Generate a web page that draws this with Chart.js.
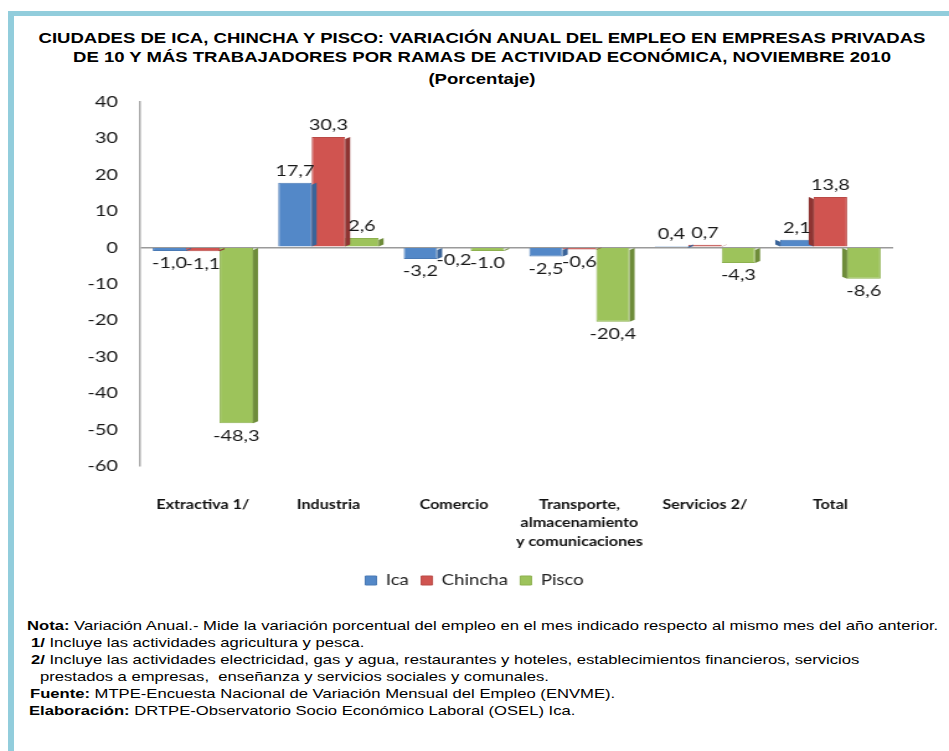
<!DOCTYPE html>
<html>
<head>
<meta charset="utf-8">
<script src="https://cdn.jsdelivr.net/npm/chart.js@4.4.1/dist/chart.umd.min.js"></script>
<style>
  html, body { margin: 0; padding: 0; background: #fff; width: 949px; height: 751px; overflow: hidden; }
  #frame { position: absolute; left: 8px; top: 11px; width: 960px; height: 800px; border-left: 6px solid #92CDDC; border-top: 5px solid #92CDDC; box-sizing: border-box; }
  .title { position: absolute; left: 0; width: 964px; text-align: center; font-family: "Liberation Sans", Arial, sans-serif; font-weight: bold; font-size: 15px; color: #000; white-space: nowrap; transform: scaleX(1.235); transform-origin: 482px 0; }
  .note { position: absolute; font-family: "Liberation Sans", Arial, sans-serif; font-size: 13px; color: #000; white-space: pre; transform: scaleX(1.278); transform-origin: 0 0; }
  .note b { font-weight: bold; }
  #wrap { position: absolute; left: 0; top: 74px; width: 765px; height: 535px; transform: scaleX(1.2405); transform-origin: 0 0; }
</style>
</head>
<body>
<div id="frame"></div>
<div class="title" style="top:29px">CIUDADES DE ICA, CHINCHA Y PISCO: VARIACIÓN ANUAL DEL EMPLEO EN EMPRESAS PRIVADAS</div>
<div class="title" style="top:48px">DE 10 Y MÁS TRABAJADORES POR RAMAS DE ACTIVIDAD ECONÓMICA, NOVIEMBRE 2010</div>
<div class="title" style="top:70px">(Porcentaje)</div>
<div id="wrap"><canvas id="c" width="765" height="535"></canvas></div>
<div class="note" style="left:27px; top:618px"><b>Nota:</b> Variación Anual.- Mide la variación porcentual del empleo en el mes indicado respecto al mismo mes del año anterior.</div>
<div class="note" style="left:31px; top:635px"><b>1/</b> Incluye las actividades agricultura y pesca.</div>
<div class="note" style="left:31px; top:652px"><b>2/</b> Incluye las actividades electricidad, gas y agua, restaurantes y hoteles, establecimientos financieros, servicios</div>
<div class="note" style="left:40px; top:669px">prestados a empresas,  enseñanza y servicios sociales y comunales.</div>
<div class="note" style="left:30px; top:686px"><b>Fuente:</b> MTPE-Encuesta Nacional de Variación Mensual del Empleo (ENVME).</div>
<div class="note" style="left:29px; top:703px"><b>Elaboración:</b> DRTPE-Observatorio Socio Económico Laboral (OSEL) Ica.</div>
<script>
const categories = [
  "Extractiva 1/",
  "Industria",
  "Comercio",
  ["Transporte,", "almacenamiento", "y comunicaciones"],
  "Servicios 2/",
  "Total"
];
const seriesNames = ["Ica", "Chincha", "Pisco"];
const icaValues     = [-1.0, 17.7, -3.2, -2.5, 0.4, 2.1];
const chinchaValues = [-1.1, 30.3, -0.2, -0.6, 0.7, 13.8];
const piscoValues   = [-48.3, 2.6, -1.0, -20.4, -4.3, -8.6];
const icaLabels     = ["-1,0", "17,7", "-3,2", "-2,5", "0,4", "2,1"];
const chinchaLabels = ["-1,1", "30,3", "-0,2", "-0,6", "0,7", "13,8"];
const piscoLabels   = ["-48,3", "2,6", "-1.0", "-20,4", "-4,3", "-8,6"];
const yTicks = [40, 30, 20, 10, 0, -10, -20, -30, -40, -50, -60];

const fills = ["#5388C8", "#D05450", "#9DC35B"];
const sides = ["#3A6499", "#8E3432", "#6E8C3A"];
const borders = ["#4A7AB5", "#B94A46", "#8DB14F"];
const allLabels = [icaLabels, chinchaLabels, piscoLabels];

const depthPlugin = {
  id: 'depth',
  afterDatasetsDraw(chart) {
    const ctx = chart.ctx;
    chart.data.datasets.forEach((ds, di) => {
      const meta = chart.getDatasetMeta(di);
      meta.data.forEach((bar, i) => {
        const p = bar.getProps(['x', 'y', 'base', 'width'], true);
        const top = Math.min(p.y, p.base);
        const bot = Math.max(p.y, p.base);
        const lastCat = i === categories.length - 1;
        const d = 4;
        ctx.save();
        ctx.fillStyle = sides[di];
        ctx.beginPath();
        if (!lastCat) {
          const r = p.x + p.width / 2;
          ctx.moveTo(r, top + 2);
          ctx.lineTo(r + d, top);
          ctx.lineTo(r + d, bot - 2);
          ctx.lineTo(r, bot);
        } else {
          const l = p.x - p.width / 2;
          ctx.moveTo(l, top + 2);
          ctx.lineTo(l - d, top);
          ctx.lineTo(l - d, bot - 2);
          ctx.lineTo(l, bot);
        }
        ctx.closePath();
        if (bot - top > 0.5) ctx.fill();
        ctx.restore();
      });
    });
  }
};

const labelPlugin = {
  id: 'valueLabels',
  afterDatasetsDraw(chart) {
    const ctx = chart.ctx;
    ctx.save();
    ctx.font = '16px Lato, "Open Sans", sans-serif';
    ctx.fillStyle = '#1a1a1a';
    ctx.textAlign = 'center';
    ctx.textBaseline = 'middle';
    chart.data.datasets.forEach((ds, di) => {
      const meta = chart.getDatasetMeta(di);
      meta.data.forEach((bar, i) => {
        const v = ds.data[i];
        const y = v >= 0 ? bar.y - 12 : bar.y + 12;
        ctx.fillText(allLabels[di][i], bar.x, y);
      });
    });
    ctx.restore();
  }
};

new Chart(document.getElementById('c'), {
  type: 'bar',
  data: {
    labels: categories,
    datasets: [
      { label: seriesNames[0], data: icaValues, backgroundColor: fills[0], borderColor: borders[0], borderWidth: 1 },
      { label: seriesNames[1], data: chinchaValues, backgroundColor: fills[1], borderColor: borders[1], borderWidth: 1 },
      { label: seriesNames[2], data: piscoValues, backgroundColor: fills[2], borderColor: borders[2], borderWidth: 1 }
    ]
  },
  options: {
    responsive: false,
    animation: false,
    devicePixelRatio: 1,
    layout: { padding: { left: 0, right: 0, top: 16, bottom: 11 } },
    datasets: { bar: { barPercentage: 1.0, categoryPercentage: 0.8 } },
    plugins: {
      title: { display: false },
      tooltip: { enabled: false },
      legend: {
        display: true,
        position: 'bottom',
        labels: {
          boxWidth: 9, boxHeight: 9, padding: 10,
          color: '#222',
          font: { family: 'Lato, "Open Sans", sans-serif', size: 15 }
        }
      }
    },
    scales: {
      x: {
        grid: { display: false, drawTicks: false },
        border: { display: false },
        ticks: {
          color: '#111',
          font: { family: 'Lato, "Open Sans", sans-serif', size: 13, weight: 'bold', lineHeight: 1.45 },
          padding: 29,
          maxRotation: 0, autoSkip: false
        },
        afterFit(scale) { scale.height = 97; }
      },
      y: {
        min: -60, max: 40,
        afterBuildTicks(scale) { scale.ticks = yTicks.map(v => ({ value: v })); },
        grid: {
          drawTicks: false,
          color: ctx => (ctx.tick && ctx.tick.value === 0) ? '#9A9A9A' : 'rgba(0,0,0,0)',
          lineWidth: 1.5
        },
        border: { display: true, color: '#A8A8A8', width: 1.5 },
        ticks: {
          color: '#1a1a1a',
          padding: 18,
          font: { family: 'Lato, "Open Sans", sans-serif', size: 16 }
        },
        afterFit(scale) { scale.width = 113; }
      },
      yRight: {
        position: 'right',
        display: true,
        min: -60, max: 40,
        grid: { display: false, drawTicks: false },
        border: { display: false },
        ticks: { display: false },
        afterFit(scale) { scale.width = 45; }
      }
    }
  },
  plugins: [depthPlugin, labelPlugin]
});
</script>
</body>
</html>
